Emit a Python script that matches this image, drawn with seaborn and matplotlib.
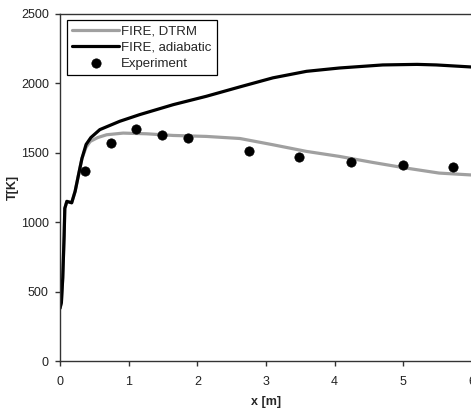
import matplotlib
matplotlib.use("Agg")
import matplotlib.pyplot as plt
import seaborn as sns
import numpy as np

sns.set_style("ticks")
plt.rcParams['font.family'] = ['Liberation Sans', 'DejaVu Sans']

# Data
x_adiab = [0, 0.02, 0.04, 0.06, 0.07, 0.10, 0.17, 0.22, 0.27, 0.32, 0.38, 0.45, 0.58,
           0.87, 1.16, 1.65, 2.13, 2.62, 3.10, 3.59, 4.07, 4.70, 5.20, 5.48, 6.0]
t_adiab = [380, 420, 600, 900, 1100, 1150, 1140, 1222, 1342, 1460, 1560, 1610, 1667,
           1727, 1775, 1847, 1907, 1975, 2040, 2087, 2111, 2133, 2137, 2133, 2118]

x_dtrm = [0, 0.02, 0.04, 0.06, 0.07, 0.10, 0.17, 0.22, 0.27, 0.32, 0.38, 0.44, 0.55,
          0.68, 0.92, 1.26, 1.65, 2.13, 2.62, 3.10, 3.59, 4.07, 4.55, 5.04, 5.52, 6.0]
t_dtrm = [380, 420, 600, 900, 1100, 1150, 1140, 1222, 1342, 1460, 1540, 1582, 1610,
          1630, 1642, 1637, 1625, 1618, 1603, 1558, 1510, 1474, 1431, 1390, 1354, 1340]

x_exp = [0.36, 0.74, 1.11, 1.49, 1.86, 2.75, 3.48, 4.24, 4.99, 5.73]
t_exp = [1366, 1571, 1672, 1625, 1609, 1515, 1472, 1436, 1412, 1400]

x_ticks = [0, 1, 2, 3, 4, 5, 6]
y_ticks = [0, 500, 1000, 1500, 2000, 2500]

fig = plt.figure(figsize=(4.71, 4.08), dpi=100)
ax = fig.add_axes([60/471, 1 - 361/408, 412/471, 347/408])

sns.lineplot(x=x_dtrm, y=t_dtrm, ax=ax, color="#a0a0a0", lw=2.3, sort=False,
             label="FIRE, DTRM")
sns.lineplot(x=x_adiab, y=t_adiab, ax=ax, color="black", lw=2.3, sort=False,
             label="FIRE, adiabatic")
sns.scatterplot(x=x_exp, y=t_exp, ax=ax, color="black", s=45, edgecolor="black",
                linewidth=0.5, label="Experiment", zorder=5)

ax.set_xlim(0, 6)
ax.set_ylim(0, 2500)
ax.set_xticks(x_ticks)
ax.set_yticks(y_ticks)
ax.tick_params(direction="out", length=3.5, width=1, color="#333333",
               labelsize=9, labelcolor="#222222")
ax.tick_params(axis="x", pad=7)
ax.tick_params(axis="y", pad=4.5)
for s in ["left", "bottom", "top"]:
    ax.spines[s].set_color("#333333")
    ax.spines[s].set_linewidth(1)
ax.spines["right"].set_visible(False)

ax.set_xlabel("x [m]", fontweight="bold", fontsize=9)
ax.xaxis.set_label_coords(0.5, -0.101)
ax.set_ylabel("T[K]", fontweight="bold", fontsize=9)
ax.yaxis.set_label_coords(-0.1, 0.5)

leg = ax.legend(loc="upper left", bbox_to_anchor=(0.016, 0.983), borderaxespad=0,
                fancybox=False, edgecolor="black", framealpha=1, fontsize=9.5,
                handlelength=3.6, handletextpad=0.15, labelspacing=0.3,
                borderpad=0.4)
leg.get_frame().set_linewidth(0.9)

fig.savefig("out.png", dpi=100)
